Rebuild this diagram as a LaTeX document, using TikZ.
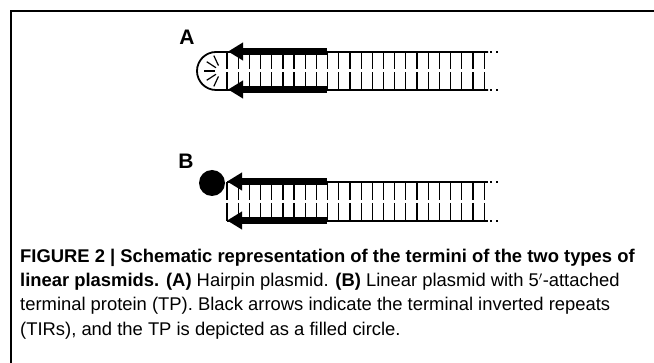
\documentclass[tikz,border=0pt]{standalone}
\usepackage{fontspec}
\setmainfont{Liberation Sans}
\usetikzlibrary{arrows.meta, positioning}

\begin{document}
\begin{tikzpicture}[x=1pt, y=-1pt,
    strand/.style={line width=1.8pt},
    rung/.style={line width=1.2pt},
    tir/.style={line width=7pt, -{Triangle[width=17pt, length=15pt]}},
    panel/.style={font=\fontsize{21}{24}\selectfont\bfseries, inner sep=0pt},
    capline/.style={anchor=base west, inner sep=0pt, font=\fontsize{18.4}{22}\selectfont}]

    \useasboundingbox (0,0) rectangle (654,363);
    \draw[line width=1.2pt] (654,11) -- (11,11) -- (11,363);

    % panel A: hairpin
    \node[panel] (labA) at (187,37) {A};
    \coordinate (aTop) at (228,52);
    \coordinate (aBot) at (228,90);
    \coordinate (aTopEnd) at (488,52);
    \coordinate (aBotEnd) at (488,90);
    \draw[strand] (aTopEnd) -- (aTop) -- (216,52) arc[start angle=270, end angle=90, radius=19] -- (aBot) -- (aBotEnd);
    \foreach \a in {115,147,180,213,245}
        \draw[rung] (221,71) ++(\a:6) -- ++(\a:11);
    \foreach \i in {0,...,23} {
        \draw[rung] (227+11.18*\i,52) -- (227+11.18*\i,69.5);
        \draw[rung] (227+11.18*\i,72.5) -- (227+11.18*\i,90);
    }
    \coordinate (aTirTop) at (327,51.5);
    \coordinate (aTirBot) at (327,89.5);
    \draw[tir] (aTirTop) -- (aTop |- aTirTop);
    \draw[tir] (aTirBot) -- (aBot |- aTirBot);
    \foreach \y in {52,90} {
        \fill (489.5,\y-1.3) rectangle ++(2.6,2.6);
        \fill (495.5,\y-1.3) rectangle ++(2.6,2.6);
    }

    % panel B: terminal protein
    \node[panel] (labB) at (186,161) {B};
    \coordinate (bTop) at (227,182);
    \coordinate (bBot) at (227,221);
    \coordinate (bTopEnd) at (488,182);
    \coordinate (bBotEnd) at (488,221);
    \draw[strand] (bTop) -- (bTopEnd);
    \draw[strand] (bBot) -- (bBotEnd);
    \foreach \i in {0,...,23} {
        \draw[rung] (227+11.18*\i,182) -- (227+11.18*\i,200);
        \draw[rung] (227+11.18*\i,203) -- (227+11.18*\i,221);
    }
    \coordinate (bTirTop) at (327,181.5);
    \coordinate (bTirBot) at (327,220.5);
    \draw[tir] (bTirTop) -- (bTop |- bTirTop);
    \draw[tir] (bTirBot) -- (bBot |- bTirBot);
    \node[circle, fill, minimum size=26pt, inner sep=0pt] (tp) at (212,183) {};
    \foreach \y in {182,221} {
        \fill (489.5,\y-1.3) rectangle ++(2.6,2.6);
        \fill (495.5,\y-1.3) rectangle ++(2.6,2.6);
    }

    % caption
    \node[capline] (cap1) at (20,262.5) {\bfseries FIGURE 2 | Schematic representation of the termini of the two types of};
    \node[capline] (cap2) at (20,286.5) {\textbf{linear plasmids. (A)} Hairpin plasmid. \textbf{(B)} Linear plasmid with 5$'$-attached};
    \node[capline] (cap3) at (20,311) {terminal protein (TP). Black arrows indicate the terminal inverted repeats};
    \node[capline] (cap4) at (20,335.5) {(TIRs), and the TP is depicted as a filled circle.};
\end{tikzpicture}
\end{document}
